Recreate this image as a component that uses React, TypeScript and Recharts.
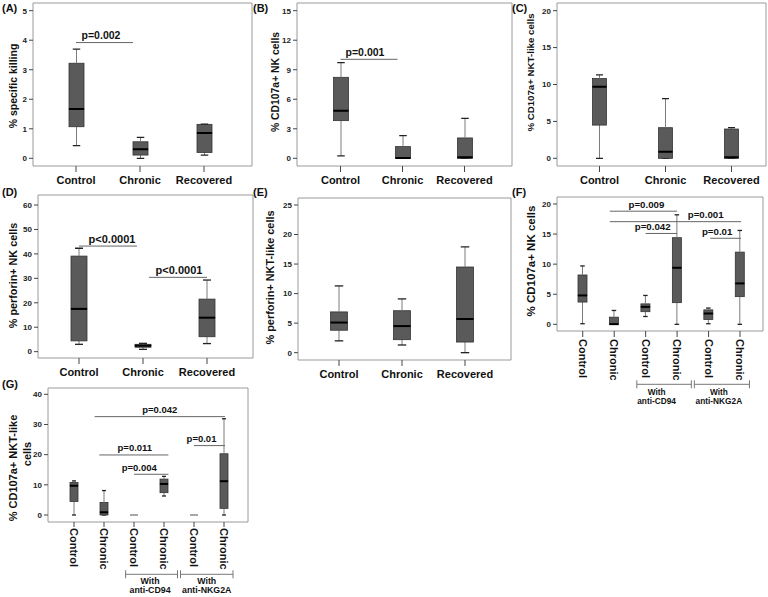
import React from 'react';
import { ComposedChart, Bar, XAxis, YAxis, CartesianGrid, ReferenceLine } from 'recharts';

const FONT = '"Liberation Sans", Arial, Helvetica, sans-serif';

// ---------- data ----------
const catsThree = ['Control', 'Chronic', 'Recovered'];
const catsSix = ['Control', 'Chronic', 'Control+CD94', 'Chronic+CD94', 'Control+NKG2A', 'Chronic+NKG2A'];
const sixTickLabels = ['Control', 'Chronic', 'Control', 'Chronic', 'Control', 'Chronic'];
const groupLabels = [['With', 'anti-CD94'], ['With', 'anti-NKG2A']];

// five-number summaries: [min, q1, median, q3, max]
const specificKilling = [[0.43, 1.07, 1.67, 3.22, 3.7], [0, 0.11, 0.31, 0.56, 0.71], [0.11, 0.2, 0.86, 1.15, 1.16]];
const cd107aNk = [[0.24, 3.83, 4.84, 8.23, 9.72], [0, 0, 0.03, 1.19, 2.3], [0, 0, 0.1, 2.07, 4.06]];
const cd107aNkt = [[0, 4.5, 9.7, 10.8, 11.3], [0, 0, 0.9, 4.15, 8.1], [0, 0, 0.14, 3.97, 4.15]];
const perforinNk = [[3, 4.4, 17.5, 39.1, 42.3], [0.95, 1.8, 2.45, 3.0, 3.4], [3.3, 6.1, 13.9, 21.5, 29.3]];
const perforinNkt = [[2, 3.8, 5.1, 6.9, 11.3], [1.3, 2.2, 4.5, 7.1, 9.1], [0, 1.8, 5.7, 14.5, 17.9]];
const cd107aNkBlocked = [[0.1, 3.7, 4.8, 8.2, 9.7], [0, 0, 0.03, 1.19, 2.3], [1.3, 2.1, 2.9, 3.4, 4.8], [0, 3.6, 9.4, 14.4, 18.2], [0.1, 0.8, 1.8, 2.4, 2.7], [0, 4.6, 6.8, 12, 15.6]];
const cd107aNktBlocked = [[0, 4.5, 9.7, 10.8, 11.3], [0, 0, 0.9, 4.15, 8.1], [0, 0, 0, 0, 0], [6.3, 7.4, 10.3, 11.9, 12.8], [0, 0, 0, 0, 0], [0, 2.2, 11.2, 20.3, 31.9]];

const ticksA = [0, 1, 2, 3, 4, 5];
const ticksB = [0, 3, 6, 9, 12, 15];
const ticksC = [0, 5, 10, 15, 20];
const ticksD = [0, 10, 20, 30, 40, 50, 60];
const ticksE = [0, 5, 10, 15, 20, 25];
const ticksF = [0, 5, 10, 15, 20];
const ticksG = [0, 10, 20, 30, 40];

type Ann = { from: string; to: string; y: number; text: string };
const annA: Ann[] = [{ from: 'Control', to: 'Chronic', y: 3.92, text: 'p=0.002' }];
const annB: Ann[] = [{ from: 'Control', to: 'Chronic', y: 10.06, text: 'p=0.001' }];
const annD: Ann[] = [
  { from: 'Control', to: 'Chronic', y: 43.2, text: 'p<0.0001' },
  { from: 'Chronic', to: 'Recovered', y: 30.4, text: 'p<0.0001' },
];
const annF: Ann[] = [
  { from: 'Chronic', to: 'Chronic+CD94', y: 18.8, text: 'p=0.009' },
  { from: 'Chronic', to: 'Chronic+NKG2A', y: 17.06, text: 'p=0.001' },
  { from: 'Control+CD94', to: 'Chronic+CD94', y: 15.1, text: 'p=0.042' },
  { from: 'Control+NKG2A', to: 'Chronic+NKG2A', y: 14.3, text: 'p=0.01' },
];
const annG: Ann[] = [
  { from: 'Chronic', to: 'Chronic+NKG2A', y: 32.6, text: 'p=0.042' },
  { from: 'Chronic', to: 'Chronic+CD94', y: 19.9, text: 'p=0.011' },
  { from: 'Control+CD94', to: 'Chronic+CD94', y: 13.5, text: 'p=0.004' },
  { from: 'Control+NKG2A', to: 'Chronic+NKG2A', y: 23.0, text: 'p=0.01' },
];

// ---------- styles ----------
// [extend start px, extend end px, text dx px]
const annStyleA = [[0, -7, -3.5]];
const annStyleB = [[0, -5, -4]];
const annStyleD = [[0, -6, 4], [-6, 0, 1]];
const annStyleF = [[4.4, 0, 3], [4.4, 1, 30.3], [0, 0, -8.7], [-1.7, 1, -8.5]];
const annStyleG = [[9.4, 1, 0], [4.7, 4.4, 1], [0, 4.4, -12], [0, 1, -8]];

const BOX_FILL = '#5a5a5a';
const BOX_STROKE = '#333333';
const WHISKER = '#7c7c7c';
const CAP = '#222222';
const FRAME = '#9a9a9a';
const TICK = '#444444';

function toRows(cats: string[], stats: number[][]) {
  return cats.map((c, i) => {
    const [mn, q1, md, q3, mx] = stats[i];
    return { cat: c, base: mn, lw: q1 - mn, lb: md - q1, ub: q3 - md, uw: mx - q3 };
  });
}

const emptyShape = () => <g />;
const lowerWhisker = (p: any) => {
  const cx = p.x + p.width / 2;
  const top = p.y;
  const bot = p.y + p.height;
  const cw = p.width * 0.5;
  const flat = p.payload && p.payload.lb + p.payload.ub + p.payload.lw + p.payload.uw === 0;
  if (flat) return <g />;
  return (
    <g>
      <line x1={cx} x2={cx} y1={top} y2={bot} stroke={WHISKER} strokeWidth={1} />
      <line x1={cx - cw / 2} x2={cx + cw / 2} y1={bot} y2={bot} stroke={CAP} strokeWidth={1.3} />
    </g>
  );
};
const upperWhisker = (p: any) => {
  const cx = p.x + p.width / 2;
  const top = p.y;
  const bot = p.y + p.height;
  const cw = p.width * 0.5;
  const flat = p.payload && p.payload.lb + p.payload.ub + p.payload.lw + p.payload.uw === 0;
  if (flat) return <g />;
  return (
    <g>
      <line x1={cx} x2={cx} y1={top} y2={bot} stroke={WHISKER} strokeWidth={1} />
      <line x1={cx - cw / 2} x2={cx + cw / 2} y1={top} y2={top} stroke={CAP} strokeWidth={1.3} />
    </g>
  );
};
const lowerBox = (p: any) => (
  <rect x={p.x} y={p.y} width={p.width} height={Math.max(0, p.height)} fill={BOX_FILL} stroke={BOX_STROKE} strokeWidth={0.8} />
);
const upperBox = (p: any) => {
  const flat = p.payload && p.payload.lb + p.payload.ub === 0;
  return (
    <g>
      <rect x={p.x} y={p.y} width={p.width} height={Math.max(0, p.height)} fill={BOX_FILL} stroke={BOX_STROKE} strokeWidth={0.8} />
      <line
        x1={p.x}
        x2={p.x + p.width}
        y1={p.y + p.height}
        y2={p.y + p.height}
        stroke={flat ? '#8a8a8a' : '#000'}
        strokeWidth={flat ? 1.5 : 2}
      />
    </g>
  );
};

const frameH = (p: any) => (p && p.offset ? [p.offset.top, p.offset.top + p.offset.height] : []);
const frameV = (p: any) => (p && p.offset ? [p.offset.left, p.offset.left + p.offset.width] : []);

function makeSixTick(cfg: { bracketDy: number; withDy: number; antiDy: number; textDx: number[]; groupFont: number }) {
  return (props: any) => {
    const { x, y, payload, index } = props;
    const band = payload && payload.offset ? payload.offset * 2 : 30;
    const label = sixTickLabels[index];
    const out: React.ReactNode[] = [
      <text
        key="t"
        transform={`translate(${x},${y}) rotate(90)`}
        dy="0.36em"
        textAnchor="start"
        fontSize={11}
        fontWeight={700}
        fontFamily={FONT}
        fill="#111"
      >
        {label}
      </text>,
    ];
    if (index === 2 || index === 4) {
      const g = index === 2 ? 0 : 1;
      const by = y + cfg.bracketDy;
      const xs = g === 0 ? x - band * 0.28 : x - band / 2 + 1.5;
      const xe = g === 0 ? x + band * 1.5 - 1.5 : x + band + band * 0.3;
      const mid = (xs + xe) / 2 + cfg.textDx[g];
      out.push(
        <g key="b">
          <line x1={xs} x2={xe} y1={by} y2={by} stroke="#777" strokeWidth={1} />
          <line x1={xs} x2={xs} y1={by - 4} y2={by + 4} stroke="#777" strokeWidth={1} />
          <line x1={xe} x2={xe} y1={by - 4} y2={by + 4} stroke="#777" strokeWidth={1} />
          <text x={mid} y={y + cfg.withDy} dy="0.35em" textAnchor="middle" fontSize={cfg.groupFont} fontWeight={700} fontFamily={FONT} fill="#111">
            {groupLabels[g][0]}
          </text>
          <text x={mid} y={y + cfg.antiDy} dy="0.35em" textAnchor="middle" fontSize={cfg.groupFont} fontWeight={700} fontFamily={FONT} fill="#111">
            {groupLabels[g][1]}
          </text>
        </g>
      );
    }
    return <g>{out}</g>;
  };
}

type PanelProps = {
  left: number;
  top: number;
  width: number;
  height: number;
  yAxisWidth: number;
  marginTop: number;
  marginRight: number;
  xAxisHeight: number;
  cats: string[];
  stats: number[][];
  domain: [number, number];
  ticks: number[];
  padL: number;
  padR: number;
  barSize: number;
  anns: Ann[];
  annStyle: number[][];
  annFont: number;
  sixTick?: any;
  tickSize?: number;
  tickMargin?: number;
};

function BoxPanel(p: PanelProps) {
  const rows = toRows(p.cats, p.stats);
  return (
    <div style={{ position: 'absolute', left: p.left, top: p.top }}>
      <ComposedChart
        width={p.width}
        height={p.height}
        data={rows}
        margin={{ top: p.marginTop, right: p.marginRight, bottom: 0, left: 0 }}
      >
        <CartesianGrid
          stroke={FRAME}
          strokeWidth={1}
          fill="none"
          horizontalCoordinatesGenerator={frameH}
          verticalCoordinatesGenerator={frameV}
        />
        <XAxis
          dataKey="cat"
          type="category"
          height={p.xAxisHeight}
          padding={{ left: p.padL, right: p.padR }}
          axisLine={false}
          tickLine={{ stroke: TICK }}
          tickSize={p.tickSize ?? 6}
          tickMargin={p.tickMargin ?? 4}
          interval={0}
          tick={p.sixTick ? p.sixTick : { fontSize: 11, fontWeight: 700, fill: '#111', fontFamily: FONT }}
        />
        <YAxis
          type="number"
          width={p.yAxisWidth}
          domain={p.domain}
          ticks={p.ticks}
          interval={0}
          allowDataOverflow
          axisLine={false}
          tickLine={{ stroke: TICK }}
          tickSize={4}
          tickMargin={2}
          tick={{ fontSize: 8, fontWeight: 700, fill: '#222', fontFamily: FONT }}
        />
        <Bar dataKey="base" stackId="s" barSize={p.barSize} shape={emptyShape} isAnimationActive={false} />
        <Bar dataKey="lw" stackId="s" barSize={p.barSize} shape={lowerWhisker} isAnimationActive={false} />
        <Bar dataKey="lb" stackId="s" barSize={p.barSize} shape={lowerBox} isAnimationActive={false} />
        <Bar dataKey="ub" stackId="s" barSize={p.barSize} shape={upperBox} isAnimationActive={false} />
        <Bar dataKey="uw" stackId="s" barSize={p.barSize} shape={upperWhisker} isAnimationActive={false} />
        {p.anns.map((a, i) => {
          const st = p.annStyle[i] || [0, 0, 0];
          return (
            <ReferenceLine
              key={i}
              segment={[{ x: a.from, y: a.y }, { x: a.to, y: a.y }]}
              ifOverflow="visible"
              shape={(sp: any) => {
                const x1 = sp.x1 - st[0];
                const x2 = sp.x2 + st[1];
                return (
                  <g>
                    <line x1={x1} x2={x2} y1={sp.y1} y2={sp.y2} stroke="#666" strokeWidth={1} />
                    <text
                      x={(x1 + x2) / 2 + st[2]}
                      y={sp.y1 - 3.5}
                      textAnchor="middle"
                      fontSize={p.annFont}
                      fontWeight={700}
                      fontFamily={FONT}
                      fill="#111"
                    >
                      {a.text}
                    </text>
                  </g>
                );
              }}
            />
          );
        })}
      </ComposedChart>
    </div>
  );
}

const sixTickF = makeSixTick({ bracketDy: 45.3, withDy: 52.7, antiDy: 61.7, textDx: [-7.5, -3], groupFont: 8.3 });
const sixTickG = makeSixTick({ bracketDy: 46.3, withDy: 53, antiDy: 62, textDx: [-1.5, 0], groupFont: 8.8 });

const yTitle = (cx: number, cy: number, text: string, size: number) => (
  <text
    transform={`translate(${cx},${cy}) rotate(-90)`}
    textAnchor="middle"
    dy="0.35em"
    fontSize={size}
    fontWeight={700}
    fontFamily={FONT}
    fill="#111"
  >
    {text}
  </text>
);
const panelLabel = (x: number, y: number, text: string) => (
  <text x={x} y={y} fontSize={11} fontWeight={700} fontFamily={FONT} fill="#111">
    {text}
  </text>
);

export default function App() {
  return (
    <div style={{ position: 'absolute', left: 0, top: 0, width: 768, height: 597, background: '#fff', overflow: 'hidden' }}>
      <BoxPanel left={0} top={0} width={258} height={192} yAxisWidth={33} marginTop={3} marginRight={6} xAxisHeight={26}
        cats={catsThree} stats={specificKilling} domain={[-0.26, 5.26]} ticks={ticksA} padL={11} padR={16} barSize={15}
        anns={annA} annStyle={annStyleA} annFont={10.5} />
      <BoxPanel left={255} top={0} width={260} height={192} yAxisWidth={42} marginTop={3} marginRight={3} xAxisHeight={26}
        cats={catsThree} stats={cd107aNk} domain={[-0.78, 15.78]} ticks={ticksB} padL={12.5} padR={16.5} barSize={15}
        anns={annB} annStyle={annStyleB} annFont={10.5} />
      <BoxPanel left={510} top={0} width={258} height={192} yAxisWidth={47} marginTop={3} marginRight={2} xAxisHeight={26}
        cats={catsThree} stats={cd107aNkt} domain={[-1.04, 21.04]} ticks={ticksC} padL={9.5} padR={1.5} barSize={14}
        anns={[]} annStyle={[]} annFont={10.5} />
      <BoxPanel left={0} top={185} width={258} height={198} yAxisWidth={38} marginTop={10} marginRight={5} xAxisHeight={25}
        cats={catsThree} stats={perforinNk} domain={[-2.6, 64.1]} ticks={ticksD} padL={9} padR={14} barSize={16}
        anns={annD} annStyle={annStyleD} annFont={11} />
      <BoxPanel left={255} top={185} width={260} height={198} yAxisWidth={43} marginTop={13} marginRight={4} xAxisHeight={23}
        cats={catsThree} stats={perforinNkt} domain={[-1.24, 26.18]} ticks={ticksE} padL={9.5} padR={14.5} barSize={17}
        anns={[]} annStyle={[]} annFont={10.5} />
      <BoxPanel left={510} top={185} width={258} height={225} yAxisWidth={47} marginTop={12} marginRight={5} xAxisHeight={79}
        cats={catsSix} stats={cd107aNkBlocked} domain={[-1.11, 21.16]} ticks={ticksF} padL={10} padR={7.25} barSize={9}
        anns={annF} annStyle={annStyleF} annFont={9.7} sixTick={sixTickF} tickSize={6} tickMargin={2} />
      <BoxPanel left={0} top={380} width={260} height={217} yAxisWidth={48} marginTop={8} marginRight={12} xAxisHeight={75}
        cats={catsSix} stats={cd107aNktBlocked} domain={[-2.32, 42.09]} ticks={ticksG} padL={11} padR={9} barSize={8}
        anns={annG} annStyle={annStyleG} annFont={9.5} sixTick={sixTickG} tickSize={5} tickMargin={1} />
      <svg width={768} height={597} style={{ position: 'absolute', left: 0, top: 0, pointerEvents: 'none' }}>
        {panelLabel(2, 12, '(A)')}
        {panelLabel(253, 12, '(B)')}
        {panelLabel(512, 12, '(C)')}
        {panelLabel(2, 196, '(D)')}
        {panelLabel(253, 196, '(E)')}
        {panelLabel(512, 196, '(F)')}
        {panelLabel(2, 388, '(G)')}
        {yTitle(13.3, 86, '% specific killing', 10.5)}
        {yTitle(275.7, 82, '% CD107a+ NK cells', 10.4)}
        {yTitle(530.7, 72.5, '% CD107a+ NKT-like cells', 9.7)}
        {yTitle(13.3, 275.5, '% perforin+ NK cells', 10.8)}
        {yTitle(270, 277.5, '% perforin+ NKT-like cells', 10.9)}
        {yTitle(530.7, 261, '% CD107a+ NK cells', 11.5)}
        {yTitle(13.3, 468, '% CD107a+ NKT-like', 11)}
        {yTitle(26.7, 454, 'cells', 11)}
      </svg>
    </div>
  );
}
